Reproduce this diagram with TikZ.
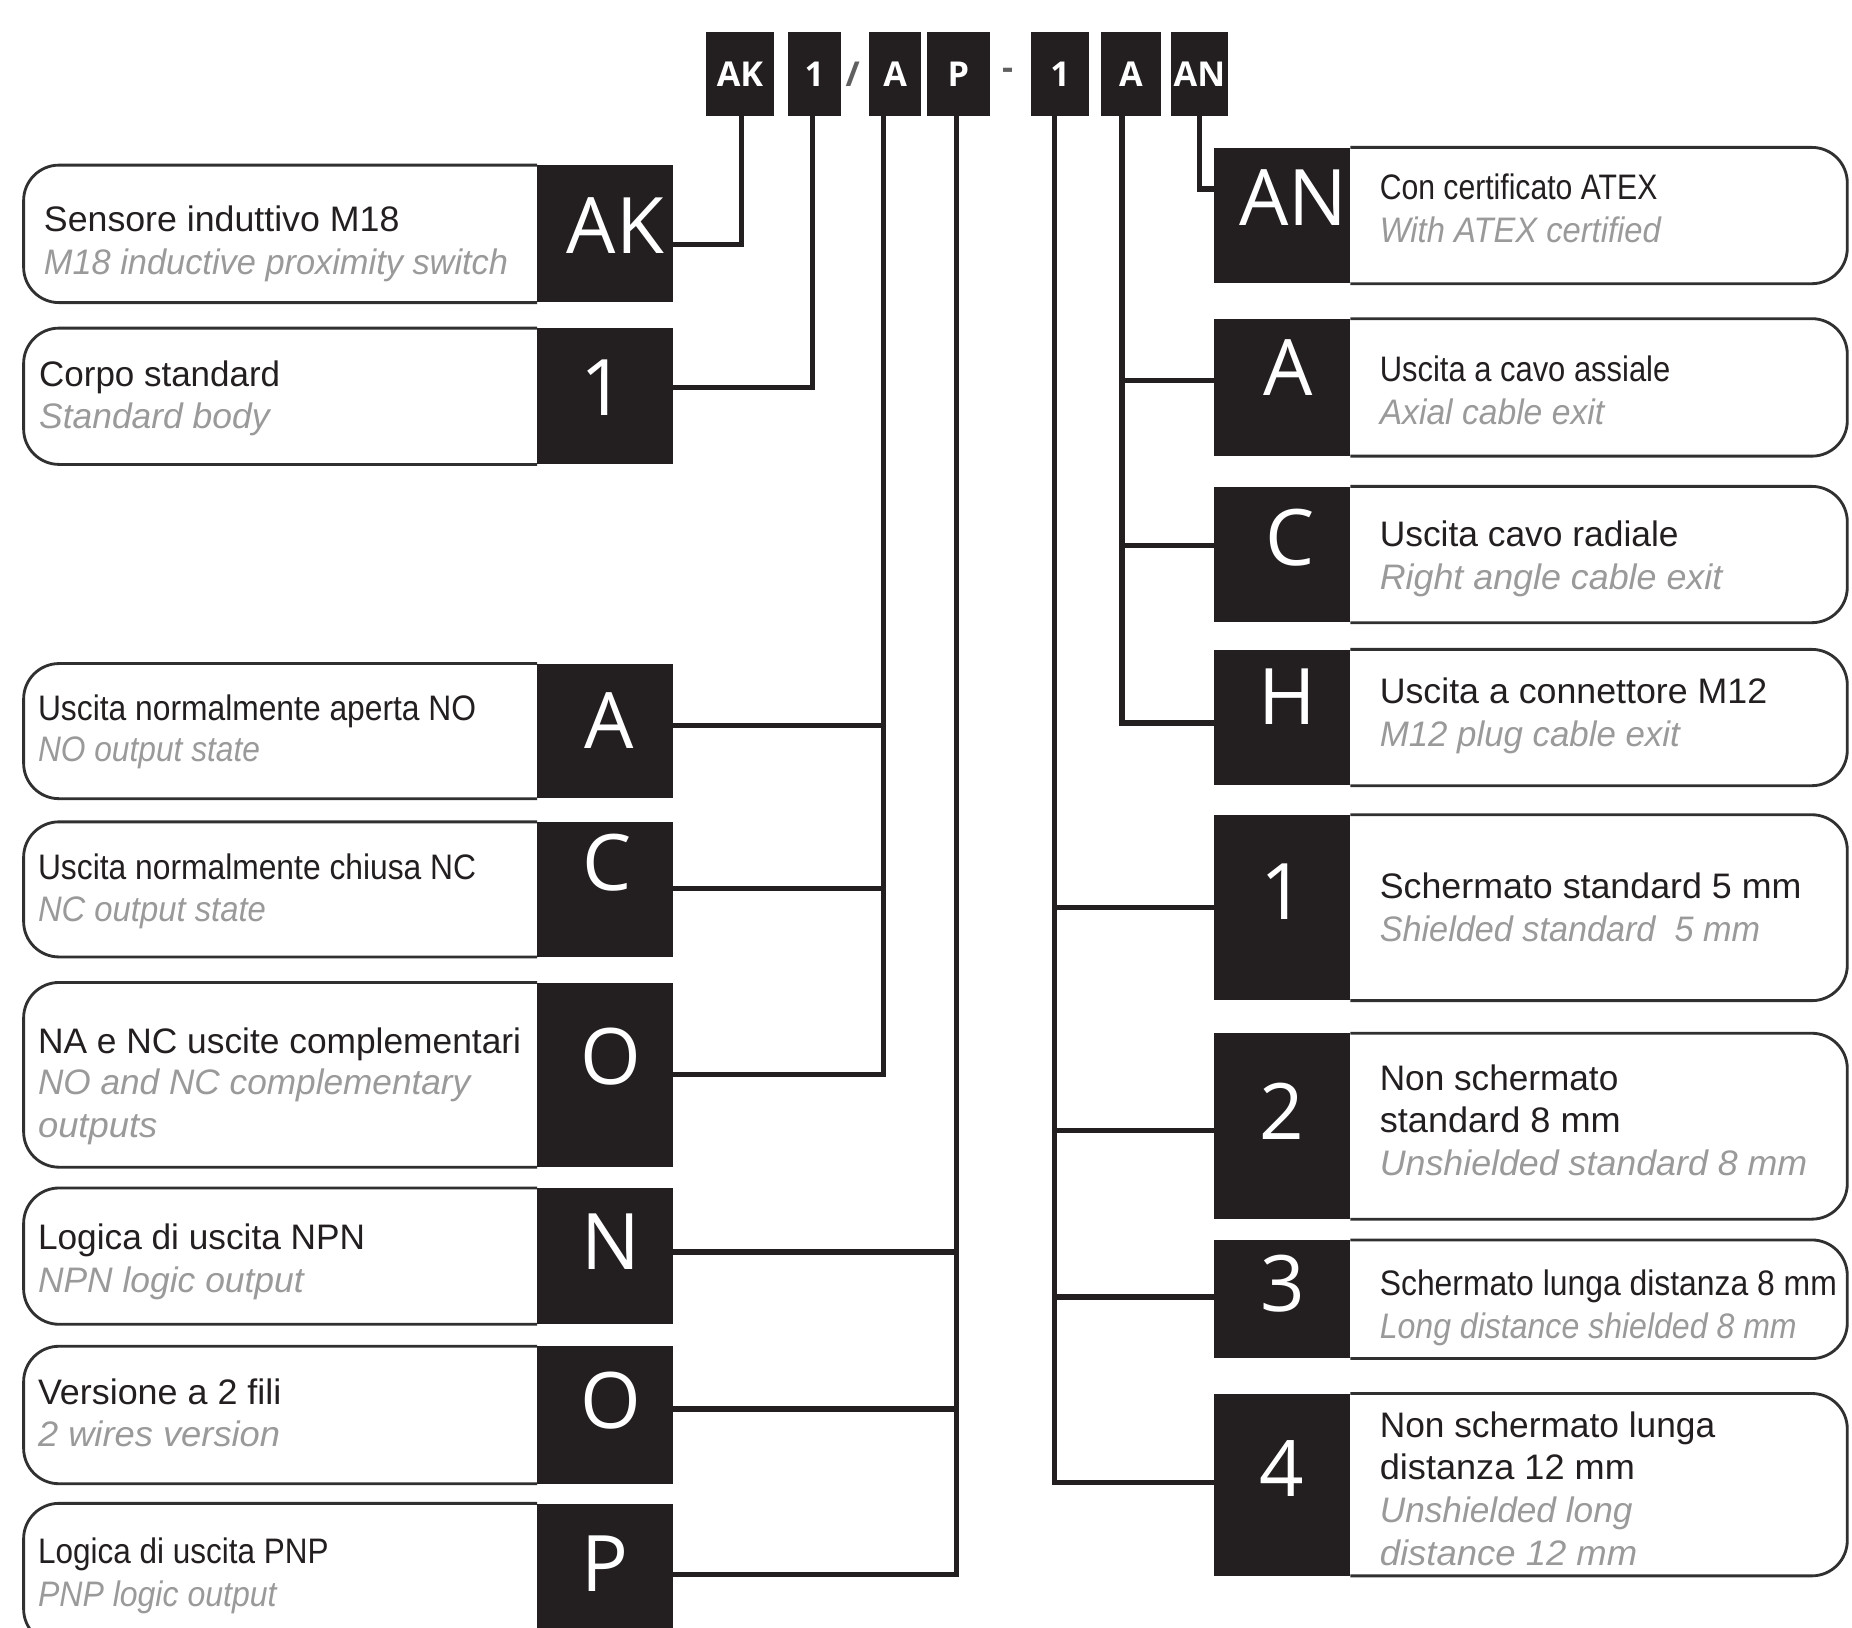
\documentclass[tikz,border=0pt]{standalone}
\usepackage{fontspec}
\usepackage{graphicx}
\setmainfont{Liberation Sans}
\newfontfamily\letf{Open Sans}
\definecolor{ink}{HTML}{231F20}
\definecolor{gtext}{HTML}{9A9A9A}
\definecolor{frm}{HTML}{303030}
\definecolor{sepc}{HTML}{606060}
\newcommand\tw[2]{\resizebox{#1pt}{\height}{#2}}
\tikzset{
  blk/.style={fill=ink, draw=none, inner sep=0pt, minimum width=115pt},
  codebox/.style={fill=ink, draw=none, inner sep=0pt, minimum height=71pt, text=white,
    font=\letf\bfseries\fontsize{29}{29}\selectfont},
  big/.style={text=white, inner sep=0pt, font=\letf\fontsize{66}{66}\selectfont},
  conn/.style={draw=ink, line width=4.5pt, line join=miter},
  frame/.style={draw=frm, line width=2.4pt, rounded corners=30pt},
  tb/.style={anchor=base west, inner sep=0pt, text=ink, font=\fontsize{30}{36}\selectfont},
  tg/.style={anchor=base west, inner sep=0pt, text=gtext, font=\itshape\fontsize{30}{36}\selectfont},
  sep/.style={text=sepc, inner sep=0pt, font=\letf\bfseries\fontsize{29}{29}\selectfont},
}
\begin{document}
\begin{tikzpicture}[x=1pt, y=-1pt]
\useasboundingbox (0,0) rectangle (1568,1378);
\fill[white] (0,0) rectangle (1568,1378);
\clip (0,0) rectangle (1568,1378);

% ---------- top code ----------
\node[codebox, minimum width=57pt] (cAK) at (626.5,62.5) {AK};
\node[codebox, minimum width=45pt] (c1)  at (689.5,62.5) {1};
\node[sep] (sl) at (722,62.5) {/};
\node[codebox, minimum width=44pt] (cA)  at (758,62.5) {A};
\node[codebox, minimum width=53pt] (cP)  at (811.5,62.5) {P};
\node[sep] (da) at (853,62.5) {-};
\node[codebox, minimum width=49pt] (c1r) at (897.5,62.5) {1};
\node[codebox, minimum width=51pt] (cAr) at (957.5,62.5) {A};
\node[codebox, minimum width=49pt] (cAN) at (1015.5,62.5) {AN};

% ---------- left black boxes ----------
\node[blk, minimum height=116pt] (bAK) at (512.5,198) {};
\node[blk, minimum height=115pt] (b1)  at (512.5,335.5) {};
\node[blk, minimum height=114pt] (bA)  at (512.5,619) {};
\node[blk, minimum height=114pt] (bC)  at (512.5,753) {};
\node[blk, minimum height=156pt] (bO)  at (512.5,910) {};
\node[blk, minimum height=115pt] (bN)  at (512.5,1063.5) {};
\node[blk, minimum height=116pt] (bO2) at (512.5,1198) {};
\node[blk, minimum height=119pt] (bP)  at (512.5,1332.5) {};

% left frames
\foreach \b in {bAK,b1,bA,bC,bO,bN,bO2,bP}{
  \draw[frame] (\b.north west) -- (\b.north west -| 20,0) -- (\b.south west -| 20,0) -- (\b.south west);
}

% ---------- right black boxes ----------
\node[blk, minimum height=115pt] (rAN) at (1085.5,182.5) {};
\node[blk, minimum height=116pt] (rA)  at (1085.5,328) {};
\node[blk, minimum height=115pt] (rC)  at (1085.5,469.5) {};
\node[blk, minimum height=115pt] (rH)  at (1085.5,607.5) {};
\node[blk, minimum height=157pt] (r1)  at (1085.5,768.5) {};
\node[blk, minimum height=157pt] (r2)  at (1085.5,953.5) {};
\node[blk, minimum height=100pt] (r3)  at (1085.5,1100) {};
\node[blk, minimum height=154pt] (r4)  at (1085.5,1257) {};

\foreach \b in {rAN,rA,rC,rH,r1,r2,r3,r4}{
  \draw[frame] (\b.north east) -- (\b.north east -| 1564,0) -- (\b.south east -| 1564,0) -- (\b.south east);
}

% ---------- big letters ----------
\node[big] (tAK) at (521,191) {AK};
\node[big] (t1)  at (510,328) {1};
\node[big] (tA)  at (516,610) {A};
\node[big] (tC)  at (514,730) {C};
\node[big] (tO)  at (517,895) {O};
\node[big] (tN)  at (517,1051) {N};
\node[big] (tO2) at (517,1186) {O};
\node[big] (tP)  at (512,1324) {P};

\node[big] (uAN) at (1095,167) {AN};
\node[big] (uA)  at (1091,311) {A};
\node[big] (uC)  at (1092,455) {C};
\node[big] (uH)  at (1090,590) {H};
\node[big] (u1)  at (1086,755) {1};
\node[big] (u2)  at (1085,941) {2};
\node[big] (u3)  at (1086,1087) {3};
\node[big] (u4)  at (1085,1243) {4};

% ---------- connectors ----------
\draw[conn] ([xshift=1.5pt]cAK.south) |- ([yshift=-9pt]bAK.east);
\draw[conn] ([xshift=-1.5pt]c1.south) |- ([yshift=7.5pt]b1.east);
\draw[conn] ([xshift=-10pt]cA.south) |- ([yshift=5pt]bA.east);
\draw[conn] ([xshift=-10pt]cA.south) |- ([yshift=1pt]bC.east);
\draw[conn] ([xshift=-10pt]cA.south) |- (bO.east);
\draw[conn] ([xshift=-1.5pt]cP.south) |- ([yshift=3.5pt]bN.east);
\draw[conn] ([xshift=-1.5pt]cP.south) |- ([yshift=5pt]bO2.east);
\draw[conn] ([xshift=-1.5pt]cP.south) |- ([yshift=-0.5pt]bP.east);

\draw[conn] ([xshift=-4.5pt]c1r.south) |- (r1.west);
\draw[conn] ([xshift=-4.5pt]c1r.south) |- ([yshift=-3.5pt]r2.west);
\draw[conn] ([xshift=-4.5pt]c1r.south) |- ([yshift=2pt]r3.west);
\draw[conn] ([xshift=-4.5pt]c1r.south) |- ([yshift=2pt]r4.west);
\draw[conn] ([xshift=-7.5pt]cAr.south) |- ([yshift=6pt]rA.west);
\draw[conn] ([xshift=-7.5pt]cAr.south) |- ([yshift=7.5pt]rC.west);
\draw[conn] ([xshift=-7.5pt]cAr.south) |- ([yshift=-4.5pt]rH.west);
\draw[conn] (cAN.south) |- ([yshift=22.5pt]rAN.west);

% ---------- left texts ----------
\node[tb] (l1a) at (37,196)  {\tw{301}{Sensore induttivo M18}};
\node[tg] (l1b) at (37,232)  {\tw{393}{M18 inductive proximity switch}};
\node[tb] (l2a) at (33,327)  {\tw{204}{Corpo standard}};
\node[tg] (l2b) at (33,363)  {\tw{195}{Standard body}};
\node[tb] (l3a) at (32,610)  {\tw{371}{Uscita normalmente aperta NO}};
\node[tg] (l3b) at (32,645)  {\tw{188}{NO output state}};
\node[tb] (l4a) at (32,745)  {\tw{371}{Uscita normalmente chiusa NC}};
\node[tg] (l4b) at (32,780)  {\tw{193}{NC output state}};
\node[tb] (l5a) at (32,892)  {\tw{409}{NA e NC uscite complementari}};
\node[tg] (l5b) at (32,927)  {\tw{366}{NO and NC complementary}};
\node[tg] (l5c) at (32,963)  {\tw{101}{outputs}};
\node[tb] (l6a) at (32,1058) {\tw{277}{Logica di uscita NPN}};
\node[tg] (l6b) at (32,1094) {\tw{225}{NPN logic output}};
\node[tb] (l7a) at (32,1189) {\tw{206}{Versione a 2 fili}};
\node[tg] (l7b) at (32,1225) {\tw{205}{2 wires version}};
\node[tb] (l8a) at (32,1324) {\tw{246}{Logica di uscita PNP}};
\node[tg] (l8b) at (32,1360) {\tw{202}{PNP logic output}};

% ---------- right texts ----------
\node[tb] (m1a) at (1168,169)  {\tw{235}{Con certificato ATEX}};
\node[tg] (m1b) at (1168,205)  {\tw{238}{With ATEX certified}};
\node[tb] (m2a) at (1168,323)  {\tw{246}{Uscita a cavo assiale}};
\node[tg] (m2b) at (1168,359)  {\tw{190}{Axial cable exit}};
\node[tb] (m3a) at (1168,463)  {\tw{253}{Uscita cavo radiale}};
\node[tg] (m3b) at (1168,499)  {\tw{290}{Right angle cable exit}};
\node[tb] (m4a) at (1168,596)  {\tw{328}{Uscita a connettore M12}};
\node[tg] (m4b) at (1168,632)  {\tw{254}{M12 plug cable exit}};
\node[tb] (m5a) at (1168,761)  {\tw{357}{Schermato standard 5 mm}};
\node[tg] (m5b) at (1168,797)  {\tw{322}{Shielded standard~ 5 mm}};
\node[tb] (m6a) at (1168,923)  {\tw{202}{Non schermato}};
\node[tb] (m6b) at (1168,959)  {\tw{204}{standard 8 mm}};
\node[tg] (m6c) at (1168,995)  {\tw{362}{Unshielded standard 8 mm}};
\node[tb] (m7a) at (1168,1097) {\tw{387}{Schermato lunga distanza 8 mm}};
\node[tg] (m7b) at (1168,1133) {\tw{353}{Long distance shielded 8 mm}};
\node[tb] (m8a) at (1168,1217) {\tw{284}{Non schermato lunga}};
\node[tb] (m8b) at (1168,1253) {\tw{216}{distanza 12 mm}};
\node[tg] (m8c) at (1168,1289) {\tw{214}{Unshielded long}};
\node[tg] (m8d) at (1168,1325) {\tw{218}{distance 12 mm}};
\end{tikzpicture}
\end{document}
